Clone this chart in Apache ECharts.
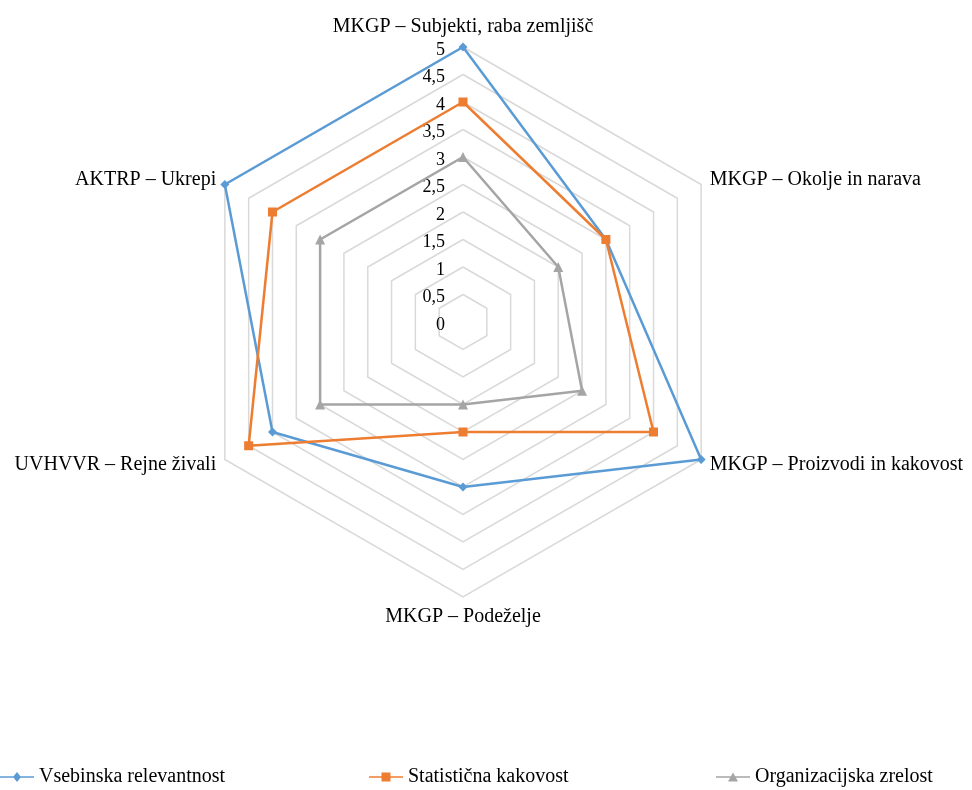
<!DOCTYPE html>
<html>
<head>
<meta charset="utf-8">
<script src="https://cdn.jsdelivr.net/npm/echarts@6/dist/echarts.min.js"></script>
<style>
html,body{margin:0;padding:0;background:#fff;}
#chart{width:972px;height:790px;}
</style>
</head>
<body>
<div id="chart"></div>
<script>
// Categories in clockwise order, starting at the top
const categories = [
  'MKGP – Subjekti, raba zemljišč',
  'MKGP – Okolje in narava',
  'MKGP – Proizvodi in kakovost',
  'MKGP – Podeželje',
  'UVHVVR – Rejne živali',
  'AKTRP – Ukrepi'
];
const seriesNames = ['Vsebinska relevantnost', 'Statistična kakovost', 'Organizacijska zrelost'];
const vsebinskaRelevantnost = [5, 3, 5, 3, 4, 5];
const statisticnaKakovost = [4, 3, 4, 2, 4.5, 4];
const organizacijskaZrelost = [3, 2, 2.5, 1.5, 3, 3];
const axisMax = 5;

// ECharts places radar indicators counter-clockwise; reorder to get clockwise layout
const order = [0, 5, 4, 3, 2, 1];
const ccw = arr => order.map(i => arr[i]);

const font = 'Liberation Serif, Times New Roman, serif';
const colors = ['#5B9BD5', '#ED7D31', '#A5A5A5'];
const symbols = ['diamond', 'rect', 'triangle'];
const sizes = [9, 9, 10];
const values = [vsebinskaRelevantnost, statisticnaKakovost, organizacijskaZrelost];
const legendIcons = [
  'path://M0,4.2L34,4.2L34,5.8L0,5.8Z M17,0L21,5L17,10L13,5Z',
  'path://M0,4.2L34,4.2L34,5.8L0,5.8Z M12.5,0.5L21.5,0.5L21.5,9.5L12.5,9.5Z',
  'path://M0,4.2L34,4.2L34,5.8L0,5.8Z M17,0.5L22,9.5L12,9.5Z'
];

const indicator = ccw(categories).map((name, i) => {
  const ind = { name: name, max: axisMax, min: 0 };
  if (i === 0) ind.axisLabel = { show: true };
  return ind;
});

const chart = echarts.init(document.getElementById('chart'), null, { renderer: 'canvas' });
chart.setOption({
  backgroundColor: '#fff',
  animation: false,
  textStyle: { fontFamily: font },
  legend: seriesNames.map((n, i) => ({
    data: [{ name: n, icon: legendIcons[i] }],
    left: [0, 369, 716][i],
    top: 767,
    padding: 0,
    itemWidth: 34,
    itemHeight: 10,
    itemGap: 0,
    textStyle: { fontFamily: font, fontSize: 20, color: '#000' }
  })),
  radar: {
    center: [463, 322],
    radius: 275,
    startAngle: 90,
    splitNumber: 10,
    shape: 'polygon',
    nameGap: 10,
    axisName: { color: '#000', fontFamily: font, fontSize: 20 },
    axisLine: { show: false },
    axisTick: { show: false },
    splitArea: { show: false },
    splitLine: { lineStyle: { color: '#d9d9d9', width: 1.5 } },
    axisLabel: {
      show: false,
      color: '#000',
      fontFamily: font,
      fontSize: 18,
      margin: 18,
      formatter: v => '{v|' + String(v).replace('.', ',') + '}',
      rich: {
        v: { fontFamily: font, fontSize: 18, color: '#000', padding: [6, 0, 0, 0] }
      }
    },
    indicator: indicator
  },
  series: [{
    type: 'radar',
    data: seriesNames.map((n, i) => ({
      name: n,
      value: ccw(values[i]),
      symbol: symbols[i],
      symbolSize: sizes[i],
      itemStyle: { color: colors[i] },
      lineStyle: { color: colors[i], width: 2.5 }
    }))
  }]
});
</script>
</body>
</html>
